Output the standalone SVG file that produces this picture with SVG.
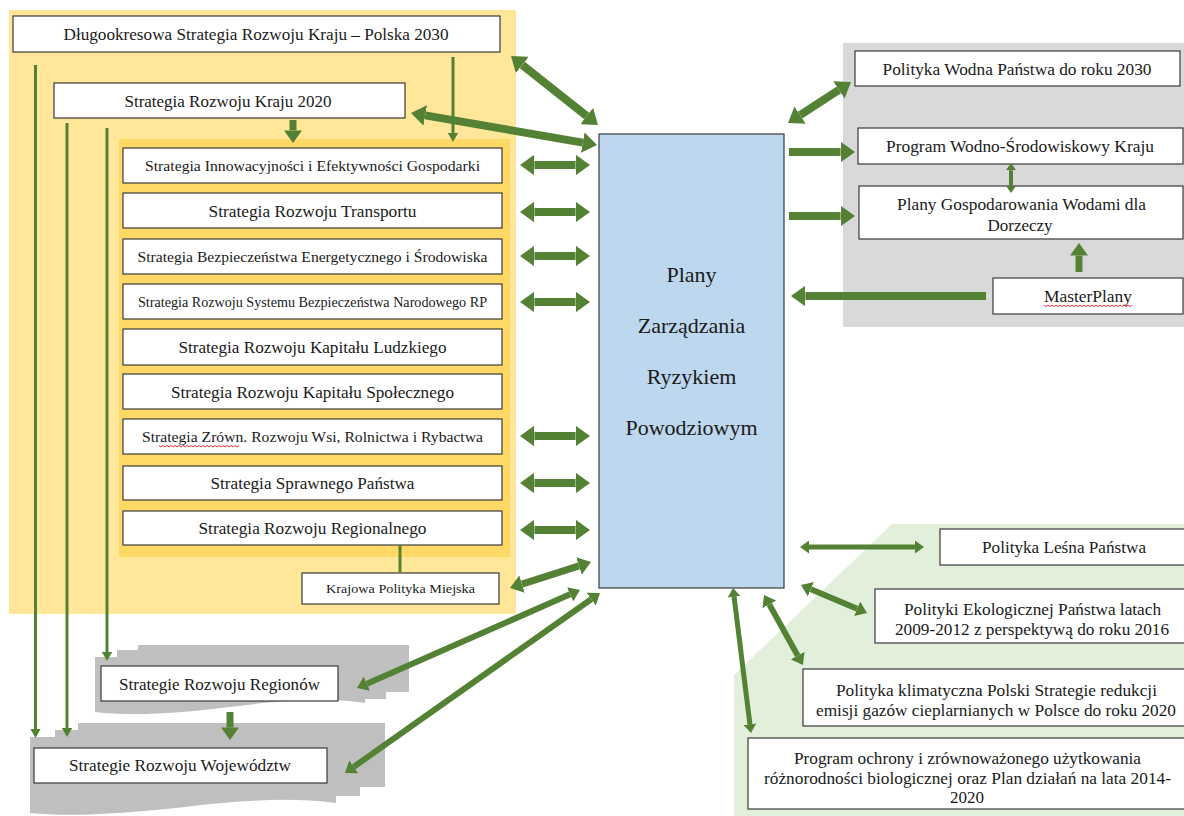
<svg xmlns="http://www.w3.org/2000/svg" width="1184" height="816" viewBox="0 0 1184 816">
<defs>
<marker id="ah" viewBox="0 0 10 10" refX="0" refY="5" markerWidth="1.8" markerHeight="2.6" orient="auto-start-reverse" preserveAspectRatio="none"><path d="M0,0 L10,5 L0,10 z" fill="#548235"/></marker>
<marker id="at" viewBox="0 0 10 10" refX="0" refY="5" markerWidth="3" markerHeight="3.4" orient="auto-start-reverse" preserveAspectRatio="none"><path d="M0,0 L10,5 L0,10 z" fill="#548235"/></marker>
<style>
.box{fill:#fff;stroke:#3a3a3a;stroke-width:1.2}
.t{font-family:'Liberation Serif','DejaVu Serif','Noto Serif',serif;fill:#1a1a1a;text-anchor:middle}
.f17{font-size:17px}
.f155{font-size:15.5px}
.f145{font-size:14.5px}
.f13{font-size:13px}
.f22{font-size:22px}
.c{fill:none;stroke:#548235}
.d{marker-start:url(#ah);marker-end:url(#ah)}
.e{marker-end:url(#ah)}
.th{stroke-width:3;marker-end:url(#at)}
.pg{fill:#bfbfbf}
.sq{fill:none;stroke:#e02020;stroke-width:0.9}
</style>
</defs>
<g id="backgrounds">
<rect x="9" y="10" width="507" height="604" fill="#ffe699"/>
<rect x="119" y="139" width="391" height="418" fill="#ffd966"/>
<rect x="843" y="43" width="341" height="284" fill="#d9d9d9"/>
<polygon points="892,524 1184,524 1184,816 734,816 734,675" fill="#e2efda"/>
</g>
<g id="stack-regiony">
<rect class="pg" x="138" y="645" width="271" height="47"/>
<rect class="pg" x="117" y="650" width="269" height="49"/>
<path class="pg" d="M95,657 H365 V703 C325,697 285,700 230,707 C175,714 130,716 95,712 Z"/>
</g>
<g id="stack-wojewodztwa">
<rect class="pg" x="78" y="723" width="307" height="64"/>
<rect class="pg" x="55" y="730" width="305" height="66"/>
<path class="pg" d="M30,737 H336 V803 C290,797 245,800 185,807 C120,814 70,817 30,813 Z"/>
</g>
<g font-family="Liberation Serif, DejaVu Serif, serif">
<g id="n-polska2030"><rect class="box" x="13" y="16" width="487" height="36"/><text class="t f17" x="256" y="40" textLength="385" lengthAdjust="spacingAndGlyphs">Długookresowa Strategia Rozwoju Kraju – Polska 2030</text></g>
<g id="n-srk2020"><rect class="box" x="54" y="83" width="351" height="35"/><text class="t f17" x="228" y="106.5" textLength="207" lengthAdjust="spacingAndGlyphs">Strategia Rozwoju Kraju 2020</text></g>
<g id="n-innowacyjnosc"><rect class="box" x="123" y="148" width="379" height="35"/><text class="t f155" x="312.5" y="171" textLength="335" lengthAdjust="spacingAndGlyphs">Strategia Innowacyjności i Efektywności Gospodarki</text></g>
<g id="n-transport"><rect class="box" x="123" y="193" width="379" height="35"/><text class="t f17" x="312.5" y="216.5" textLength="208" lengthAdjust="spacingAndGlyphs">Strategia Rozwoju Transportu</text></g>
<g id="n-energetyka"><rect class="box" x="123" y="239" width="379" height="35"/><text class="t f155" x="312.5" y="262" textLength="350" lengthAdjust="spacingAndGlyphs">Strategia Bezpieczeństwa Energetycznego i Środowiska</text></g>
<g id="n-bezpieczenstwo"><rect class="box" x="123" y="284" width="379" height="35"/><text class="t f145" x="312.5" y="306.5" textLength="349" lengthAdjust="spacingAndGlyphs">Strategia Rozwoju Systemu Bezpieczeństwa Narodowego RP</text></g>
<g id="n-ludzki"><rect class="box" x="123" y="329" width="379" height="36"/><text class="t f17" x="312.5" y="353" textLength="268" lengthAdjust="spacingAndGlyphs">Strategia Rozwoju Kapitału Ludzkiego</text></g>
<g id="n-spoleczny"><rect class="box" x="123" y="374" width="379" height="35"/><text class="t f17" x="312.5" y="397.5" textLength="283" lengthAdjust="spacingAndGlyphs">Strategia Rozwoju Kapitału Społecznego</text></g>
<g id="n-wies"><rect class="box" x="123" y="419" width="379" height="35"/><text class="t f155" x="312.5" y="442" textLength="341" lengthAdjust="spacingAndGlyphs">Strategia Zrówn. Rozwoju Wsi, Rolnictwa i Rybactwa</text><path class="sq" d="M159,445.5 l2,1.5 2,-1.5 2,1.5 2,-1.5 2,1.5 2,-1.5 2,1.5 2,-1.5 2,1.5 2,-1.5 2,1.5 2,-1.5 2,1.5 2,-1.5 2,1.5 2,-1.5 2,1.5 2,-1.5 2,1.5 2,-1.5 2,1.5 2,-1.5 2,1.5 2,-1.5 2,1.5 2,-1.5 2,1.5 2,-1.5 2,1.5 2,-1.5 2,1.5 2,-1.5 2,1.5 2,-1.5 2,1.5 2,-1.5 2,1.5 2,-1.5 2,1.5 2,-1.5"/></g>
<g id="n-panstwo"><rect class="box" x="123" y="466" width="379" height="34"/><text class="t f17" x="312.5" y="489" textLength="204" lengthAdjust="spacingAndGlyphs">Strategia Sprawnego Państwa</text></g>
<g id="n-regionalny"><rect class="box" x="123" y="511" width="379" height="34"/><text class="t f17" x="312.5" y="534" textLength="228" lengthAdjust="spacingAndGlyphs">Strategia Rozwoju Regionalnego</text></g>
<g id="n-miejska"><rect class="box" x="302" y="573" width="197" height="31"/><text class="t f13" x="400.5" y="593" textLength="149" lengthAdjust="spacingAndGlyphs">Krajowa Polityka Miejska</text></g>
<g id="n-regiony"><rect class="box" x="101" y="666" width="237" height="35"/><text class="t f17" x="219.5" y="689.5" textLength="201" lengthAdjust="spacingAndGlyphs">Strategie Rozwoju Regionów</text></g>
<g id="n-wojewodztwa"><rect class="box" x="34" y="748" width="293" height="35"/><text class="t f17" x="180" y="771" textLength="222" lengthAdjust="spacingAndGlyphs">Strategie Rozwoju Województw</text></g>
<g id="n-pzrp"><rect x="599" y="134" width="185" height="454" fill="#bdd7ee" stroke="#3a3a3a" stroke-width="1.2"/>
<text class="t f22" x="691.5" y="281.5">Plany</text>
<text class="t f22" x="691.5" y="332.5">Zarządzania</text>
<text class="t f22" x="691.5" y="384">Ryzykiem</text>
<text class="t f22" x="691.5" y="434.5">Powodziowym</text></g>
<g id="n-wodna"><rect class="box" x="855" y="51" width="325" height="35"/><text class="t f17" x="1017" y="74.5" textLength="269" lengthAdjust="spacingAndGlyphs">Polityka Wodna Państwa do roku 2030</text></g>
<g id="n-pwsk"><rect class="box" x="858" y="128" width="325" height="36"/><text class="t f17" x="1020" y="152" textLength="268" lengthAdjust="spacingAndGlyphs">Program Wodno-Środowiskowy Kraju</text></g>
<g id="n-pgw"><rect class="box" x="859" y="186" width="324" height="53"/><text class="t f17" x="1021.5" y="210" textLength="249" lengthAdjust="spacingAndGlyphs">Plany Gospodarowania Wodami dla</text><text class="t f17" x="1020" y="231">Dorzeczy</text></g>
<g id="n-masterplany"><rect class="box" x="993" y="278" width="190" height="36"/><text class="t f17" x="1088" y="302" textLength="88" lengthAdjust="spacingAndGlyphs">MasterPlany</text><path class="sq" d="M1044,305 l2,1.5 2,-1.5 2,1.5 2,-1.5 2,1.5 2,-1.5 2,1.5 2,-1.5 2,1.5 2,-1.5 2,1.5 2,-1.5 2,1.5 2,-1.5 2,1.5 2,-1.5 2,1.5 2,-1.5 2,1.5 2,-1.5 2,1.5 2,-1.5 2,1.5 2,-1.5 2,1.5 2,-1.5 2,1.5 2,-1.5 2,1.5 2,-1.5 2,1.5 2,-1.5 2,1.5 2,-1.5 2,1.5 2,-1.5 2,1.5 2,-1.5 2,1.5 2,-1.5 2,1.5 2,-1.5 2,1.5 2,-1.5"/></g>
<g id="n-lesna"><rect class="box" x="940" y="529" width="250" height="36"/><text class="t f17" x="1064" y="553" textLength="164" lengthAdjust="spacingAndGlyphs">Polityka Leśna Państwa</text></g>
<g id="n-ekologiczna"><rect class="box" x="875" y="589" width="315" height="54"/><text class="t f17" x="1032.5" y="615" textLength="257" lengthAdjust="spacingAndGlyphs">Polityki Ekologicznej Państwa latach</text><text class="t f17" x="1032" y="634.5" textLength="274" lengthAdjust="spacingAndGlyphs">2009-2012 z perspektywą do roku 2016</text></g>
<g id="n-klimatyczna"><rect class="box" x="803" y="669" width="387" height="57"/><text class="t f17" x="996.5" y="696" textLength="321" lengthAdjust="spacingAndGlyphs">Polityka klimatyczna Polski Strategie redukcji</text><text class="t f17" x="996" y="716" textLength="360" lengthAdjust="spacingAndGlyphs">emisji gazów cieplarnianych w Polsce do roku 2020</text></g>
<g id="n-bioroznorodnosc"><rect class="box" x="748" y="738" width="442" height="71"/><text class="t f17" x="967.5" y="764" textLength="347" lengthAdjust="spacingAndGlyphs">Program ochrony i zrównoważonego użytkowania</text><text class="t f17" x="967.5" y="784" textLength="407" lengthAdjust="spacingAndGlyphs">różnorodności biologicznej oraz Plan działań na lata 2014-</text><text class="t f17" x="967" y="803">2020</text></g>
</g>
<g id="connectors">
<line class="c th" x1="35.5" y1="65" x2="35.5" y2="729"/>
<line class="c th" x1="67" y1="123" x2="67" y2="728"/>
<line class="c th" x1="107" y1="128" x2="107" y2="652"/>
<line class="c th" x1="453" y1="57" x2="453" y2="133"/>
<line class="c" stroke-width="3" x1="400" y1="545" x2="400" y2="573"/>
<line class="c e" stroke-width="7" x1="293" y1="120" x2="293" y2="130.4"/>
<line class="c e" stroke-width="7" x1="230" y1="712" x2="230" y2="727.4"/>
<line class="c d" stroke-width="8" x1="522.3" y1="65" x2="586.7" y2="116"/>
<line class="c d" stroke-width="8" x1="425.2" y1="115.4" x2="582.8" y2="142.6"/>
<line class="c d" stroke-width="8" x1="534.4" y1="165" x2="575.6" y2="165"/>
<line class="c d" stroke-width="8" x1="534.4" y1="212" x2="575.6" y2="212"/>
<line class="c d" stroke-width="8" x1="534.4" y1="256" x2="575.6" y2="256"/>
<line class="c d" stroke-width="8" x1="534.4" y1="302" x2="575.6" y2="302"/>
<line class="c d" stroke-width="8" x1="534.4" y1="436" x2="575.6" y2="436"/>
<line class="c d" stroke-width="8" x1="534.4" y1="483" x2="575.6" y2="483"/>
<line class="c d" stroke-width="8" x1="534.4" y1="530" x2="575.6" y2="530"/>
<line class="c d" stroke-width="7" x1="522" y1="584.1" x2="579" y2="565.9"/>
<line class="c d" stroke-width="6" x1="570.1" y1="594.3" x2="366.9" y2="683.7"/>
<line class="c d" stroke-width="6" x1="591.2" y1="599.2" x2="353.8" y2="766.8"/>
<line class="c d" stroke-width="8" x1="800.1" y1="115.1" x2="838.9" y2="89.9"/>
<line class="c e" stroke-width="8" x1="789" y1="152" x2="840.6" y2="152"/>
<line class="c e" stroke-width="8" x1="789" y1="216" x2="840.6" y2="216"/>
<line class="c e" stroke-width="8" x1="986" y1="296" x2="805.4" y2="296"/>
<line class="c e" stroke-width="7" x1="1079" y1="272" x2="1079" y2="255.6"/>
<line class="c d" stroke-width="4" x1="1011" y1="170.2" x2="1011" y2="185.8"/>
<line class="c d" stroke-width="5" x1="809" y1="547" x2="915" y2="547"/>
<line class="c d" stroke-width="6" x1="810.9" y1="589.2" x2="857.1" y2="608.8"/>
<line class="c d" stroke-width="6" x1="769.3" y1="604.4" x2="797.7" y2="655.6"/>
<line class="c d" stroke-width="5" x1="734.1" y1="596.9" x2="749.9" y2="724.1"/>
</g>
</svg>
